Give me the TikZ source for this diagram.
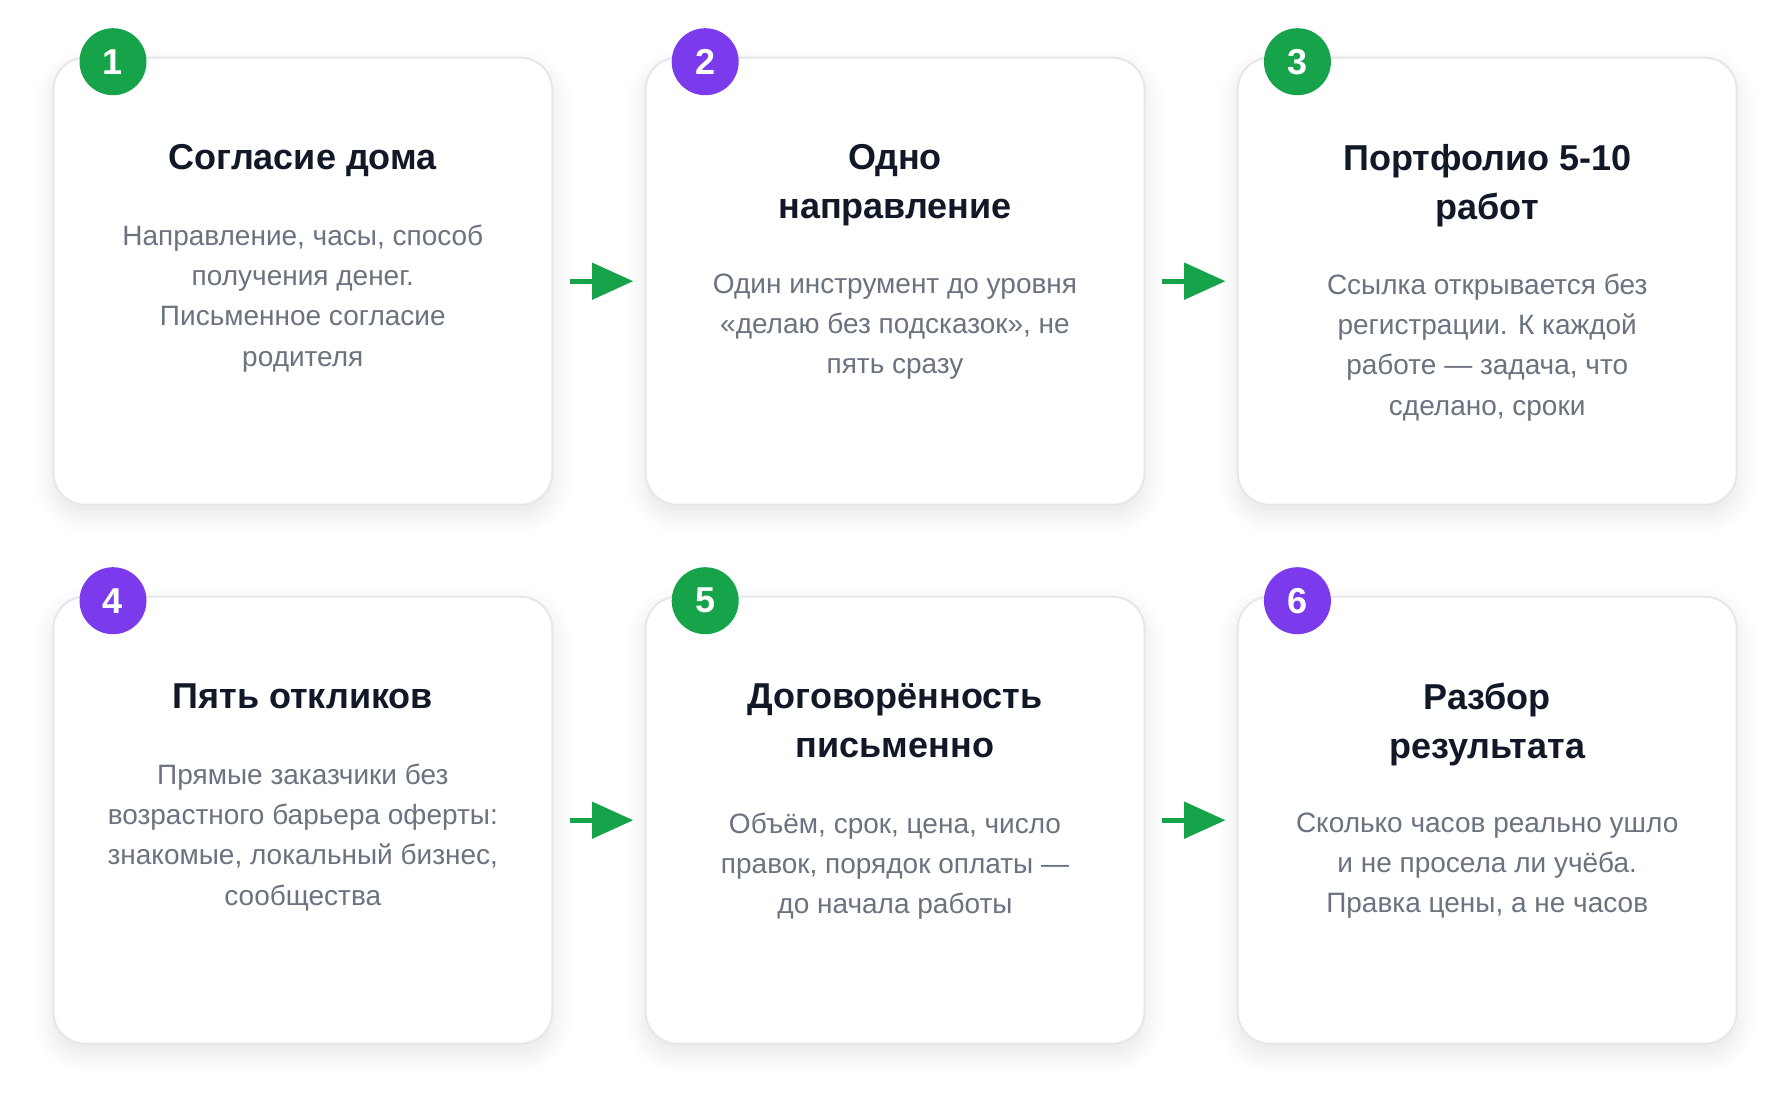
\documentclass[tikz,border=0pt]{standalone}
\usepackage{fontspec}
\setmainfont{Liberation Sans}
\usetikzlibrary{arrows.meta,shadows.blur}
\definecolor{stepgreen}{HTML}{16A34A}
\definecolor{steppurple}{HTML}{7C3AED}
\definecolor{cardline}{HTML}{E5E7EB}
\definecolor{titleink}{HTML}{111827}
\definecolor{bodyink}{HTML}{6B7280}
\begin{document}
\begin{tikzpicture}[x=1pt, y=-1pt,
  card/.style={draw=cardline, line width=2pt, fill=white, rounded corners=32pt,
    minimum width=499pt, minimum height=447pt, inner sep=0pt,
    blur shadow={shadow xshift=0pt, shadow yshift=-10pt, shadow blur radius=20pt, shadow blur steps=10, shadow opacity=10}},
  badge/.style={circle, minimum size=67pt, inner sep=0pt, text=white,
    font=\bfseries\fontsize{36}{40}\selectfont},
  heading/.style={anchor=north, inner sep=0pt, align=center, text=titleink,
    font=\bfseries\fontsize{36}{49}\selectfont,
    execute at begin node=\strut, execute at end node=\strut},
  blurb/.style={anchor=north, inner sep=0pt, align=center, text=bodyink,
    font=\fontsize{28}{40.2}\selectfont, execute at begin node=\strut},
  flow/.style={draw=stepgreen, line width=5pt, shorten <=16.7pt, shorten >=11.2pt,
    -{Triangle[length=41.3pt, width=36pt]}}]
\useasboundingbox (0,0) rectangle (1790,1105);
\node[card] (C_1) at (302.8,281.2) {};
\node[card] (C_2) at (895,281.2) {};
\node[card] (C_3) at (1487.2,281.2) {};
\node[card] (C_4) at (302.8,820.2) {};
\node[card] (C_5) at (895,820.2) {};
\node[card] (C_6) at (1487.2,820.2) {};
\node[badge, fill=stepgreen] (N_1) at (113,61.7) {1};
\node[badge, fill=steppurple] (N_2) at (705.2,61.7) {2};
\node[badge, fill=stepgreen] (N_3) at (1297.4,61.7) {3};
\node[badge, fill=steppurple] (N_4) at (113,600.7) {4};
\node[badge, fill=stepgreen] (N_5) at (705.2,600.7) {5};
\node[badge, fill=steppurple] (N_6) at (1297.4,600.7) {6};
\node[heading] (T_1) at (302.8,135) {Согласие дома};
\node[blurb] (B_1) at (302.8,224.8) {Направление, часы, способ\\получения денег.\\Письменное согласие\\родителя};
\node[heading] (T_2) at (895,144) {Одно\\направление};
\node[blurb] (B_2) at (895,273.8) {Один инструмент до уровня\\«делаю без подсказок», не\\пять сразу};
\node[heading] (T_3) at (1487.2,144) {Портфолио 5-10\\работ};
\node[blurb] (B_3) at (1487.2,273.8) {Ссылка открывается без\\регистрации. К каждой\\работе — задача, что\\сделано, сроки};
\node[heading] (T_4) at (302.8,674) {Пять откликов};
\node[blurb] (B_4) at (302.8,763.8) {Прямые заказчики без\\возрастного барьера оферты:\\знакомые, локальный бизнес,\\сообщества};
\node[heading] (T_5) at (895,683) {Договорённость\\письменно};
\node[blurb] (B_5) at (895,812.8) {Объём, срок, цена, число\\правок, порядок оплаты —\\до начала работы};
\node[heading] (T_6) at (1487.2,683) {Разбор\\результата};
\node[blurb] (B_6) at (1487.2,812.8) {Сколько часов реально ушло\\и не просела ли учёба.\\Правка цены, а не часов};
\draw[flow] (C_1.east) -- (C_2.west);
\draw[flow] (C_2.east) -- (C_3.west);
\draw[flow] (C_4.east) -- (C_5.west);
\draw[flow] (C_5.east) -- (C_6.west);
\end{tikzpicture}
\end{document}
